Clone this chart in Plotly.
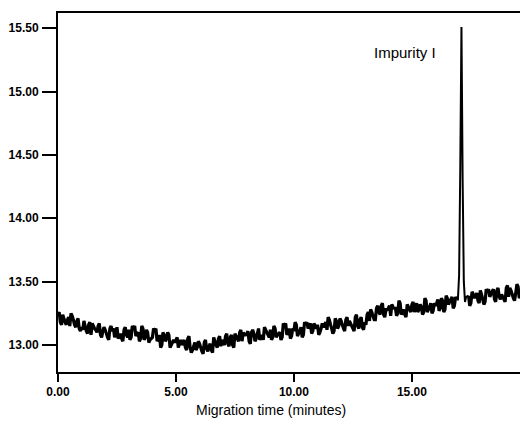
import plotly.graph_objects as go

# Baseline sampled every 0.1 min from 0.0 to 16.9
base_times = [round(0.1 * i, 2) for i in range(170)]
base_values = [
    13.24, 13.18, 13.24, 13.18, 13.20, 13.15, 13.23, 13.16, 13.19, 13.13,
    13.14, 13.19, 13.11, 13.16, 13.08, 13.15, 13.12, 13.15, 13.08, 13.11,
    13.12, 13.06, 13.13, 13.11, 13.06, 13.14, 13.07, 13.05, 13.12, 13.08,
    13.12, 13.06, 13.13, 13.07, 13.10, 13.05, 13.13, 13.06, 13.10, 13.04,
    13.06, 13.11, 13.03, 13.08, 13.00, 13.08, 13.05, 13.08, 13.00, 13.04,
    13.04, 12.98, 13.04, 13.02, 12.98, 13.05, 12.98, 12.96, 13.02, 12.98,
    13.01, 12.95, 13.02, 12.97, 12.99, 12.96, 13.06, 13.00, 13.05, 12.99,
    13.02, 13.07, 13.01, 13.06, 13.00, 13.09, 13.05, 13.10, 13.03, 13.08,
    13.09, 13.03, 13.10, 13.09, 13.05, 13.13, 13.06, 13.04, 13.12, 13.08,
    13.12, 13.06, 13.13, 13.08, 13.10, 13.06, 13.15, 13.08, 13.13, 13.07,
    13.11, 13.16, 13.09, 13.14, 13.08, 13.16, 13.13, 13.17, 13.11, 13.15,
    13.16, 13.10, 13.17, 13.16, 13.12, 13.20, 13.13, 13.11, 13.19, 13.15,
    13.19, 13.13, 13.20, 13.15, 13.17, 13.13, 13.22, 13.15, 13.20, 13.14,
    13.18, 13.24, 13.19, 13.26, 13.20, 13.29, 13.26, 13.31, 13.24, 13.28,
    13.29, 13.23, 13.30, 13.29, 13.25, 13.33, 13.26, 13.24, 13.32, 13.28,
    13.32, 13.26, 13.33, 13.28, 13.30, 13.26, 13.35, 13.28, 13.33, 13.27,
    13.31, 13.36, 13.29, 13.35, 13.28, 13.37, 13.34, 13.38, 13.31, 13.36,
]

# Baseline half-step samples, 0.05 to 16.85 min
mid_times = [round(0.05 + 0.1 * i, 2) for i in range(169)]
mid_values = [
    13.26, 13.16, 13.21, 13.16, 13.22, 13.25, 13.20, 13.14, 13.21, 13.11,
    13.12, 13.15, 13.09, 13.18, 13.17, 13.13, 13.10, 13.17, 13.06, 13.14,
    13.09, 13.04, 13.15, 13.13, 13.10, 13.05, 13.09, 13.03, 13.14, 13.06,
    13.04, 13.15, 13.15, 13.09, 13.03, 13.15, 13.04, 13.12, 13.02, 13.05,
    13.13, 13.13, 13.05, 12.98, 13.10, 13.03, 13.10, 12.98, 13.02, 13.02,
    13.06, 13.01, 13.00, 13.04, 12.96, 13.07, 12.94, 12.99, 12.96, 13.03,
    12.98, 12.93, 13.04, 12.95, 13.01, 12.94, 13.03, 12.98, 13.07, 13.04,
    13.00, 13.09, 12.99, 13.08, 12.98, 13.07, 13.03, 13.12, 13.10, 13.08,
    13.11, 13.01, 13.12, 13.03, 13.09, 13.04, 13.08, 13.14, 13.10, 13.06,
    13.04, 13.15, 13.06, 13.09, 13.04, 13.17, 13.17, 13.10, 13.05, 13.13,
    13.18, 13.07, 13.11, 13.06, 13.18, 13.18, 13.15, 13.09, 13.17, 13.13,
    13.08, 13.13, 13.14, 13.18, 13.22, 13.16, 13.09, 13.21, 13.13, 13.21,
    13.16, 13.11, 13.22, 13.19, 13.15, 13.11, 13.24, 13.13, 13.22, 13.12,
    13.16, 13.26, 13.28, 13.23, 13.20, 13.31, 13.24, 13.33, 13.22, 13.28,
    13.31, 13.32, 13.29, 13.23, 13.35, 13.24, 13.28, 13.22, 13.30, 13.26,
    13.34, 13.29, 13.26, 13.32, 13.24, 13.37, 13.26, 13.30, 13.25, 13.33,
    13.33, 13.27, 13.37, 13.26, 13.39, 13.32, 13.36, 13.29, 13.38,
]

# Impurity I peak
peak_times = [16.9, 16.95, 17.0, 17.05, 17.1, 17.15, 17.2, 17.25, 17.3, 17.4]
peak_values = [13.36, 13.36, 13.55, 14.40, 15.51, 14.30, 13.50, 13.34, 13.38, 13.39]

# Baseline after the peak, every 0.1 min from 17.4 to 20.0
post_times = [round(17.4 + 0.1 * i, 2) for i in range(27)]
post_values = [
    13.39, 13.33, 13.40, 13.39, 13.35, 13.43, 13.36, 13.34, 13.42, 13.38,
    13.42, 13.36, 13.43, 13.38, 13.40, 13.36, 13.45, 13.38, 13.43, 13.37,
    13.41, 13.46, 13.39, 13.44, 13.37, 13.46, 13.43,
]
post_mid_times = [round(17.45 + 0.1 * i, 2) for i in range(26)]
post_mid_values = [
    13.31, 13.42, 13.37, 13.41, 13.33, 13.40, 13.32, 13.44, 13.44, 13.40,
    13.44, 13.34, 13.45, 13.36, 13.38, 13.34, 13.47, 13.45, 13.40, 13.35,
    13.48, 13.37, 13.42, 13.35, 13.48, 13.48,
]

x_ticks = [0, 5, 10, 15]
y_ticks = [13.0, 13.5, 14.0, 14.5, 15.0, 15.5]

pre = sorted(list(zip(base_times, base_values)) + list(zip(mid_times, mid_values)))
post = sorted(list(zip(post_times, post_values)) + list(zip(post_mid_times, post_mid_values)))

fig = go.Figure()
for seg, w in [(pre, 3.2), (post, 3.2)]:
    fig.add_trace(go.Scatter(
        x=[p[0] for p in seg], y=[p[1] for p in seg], mode="lines",
        line=dict(color="black", width=w, simplify=False),
        showlegend=False, hoverinfo="skip",
    ))
fig.add_trace(go.Scatter(
    x=peak_times, y=peak_values, mode="lines",
    line=dict(color="black", width=2, simplify=False),
    showlegend=False, hoverinfo="skip",
))

tickfont = dict(family="Liberation Sans, Arial, sans-serif", size=12, color="black", weight="bold")

fig.update_layout(
    width=520, height=414,
    margin=dict(l=50, r=0, t=5, b=50),
    paper_bgcolor="white", plot_bgcolor="white",
    xaxis=dict(
        range=[0, 19.92], tickvals=x_ticks, tickformat=".2f",
        showgrid=False, zeroline=False,
        showline=True, linecolor="black", linewidth=2, mirror=True,
        ticks="outside", ticklen=8, tickwidth=2, tickcolor="black",
        tickfont=tickfont,
    ),
    yaxis=dict(
        range=[12.787, 15.62], tickvals=y_ticks, tickformat=".2f",
        showgrid=False, zeroline=False,
        showline=True, linecolor="black", linewidth=2,
        ticks="outside", ticklen=14, tickwidth=2, tickcolor="black",
        ticklabelstandoff=1,
        tickfont=tickfont,
    ),
    annotations=[
        dict(text="Impurity I", x=14.7, y=15.31, xref="x", yref="y",
             showarrow=False,
             font=dict(family="Liberation Sans, Arial, sans-serif", size=15, color="black")),
        dict(text="Migration time (minutes)", x=0.453, y=-0.106, xref="paper", yref="paper",
             showarrow=False, yanchor="middle",
             font=dict(family="Liberation Sans, Arial, sans-serif", size=14, color="black")),
    ],
)

fig.write_html("out.html")
